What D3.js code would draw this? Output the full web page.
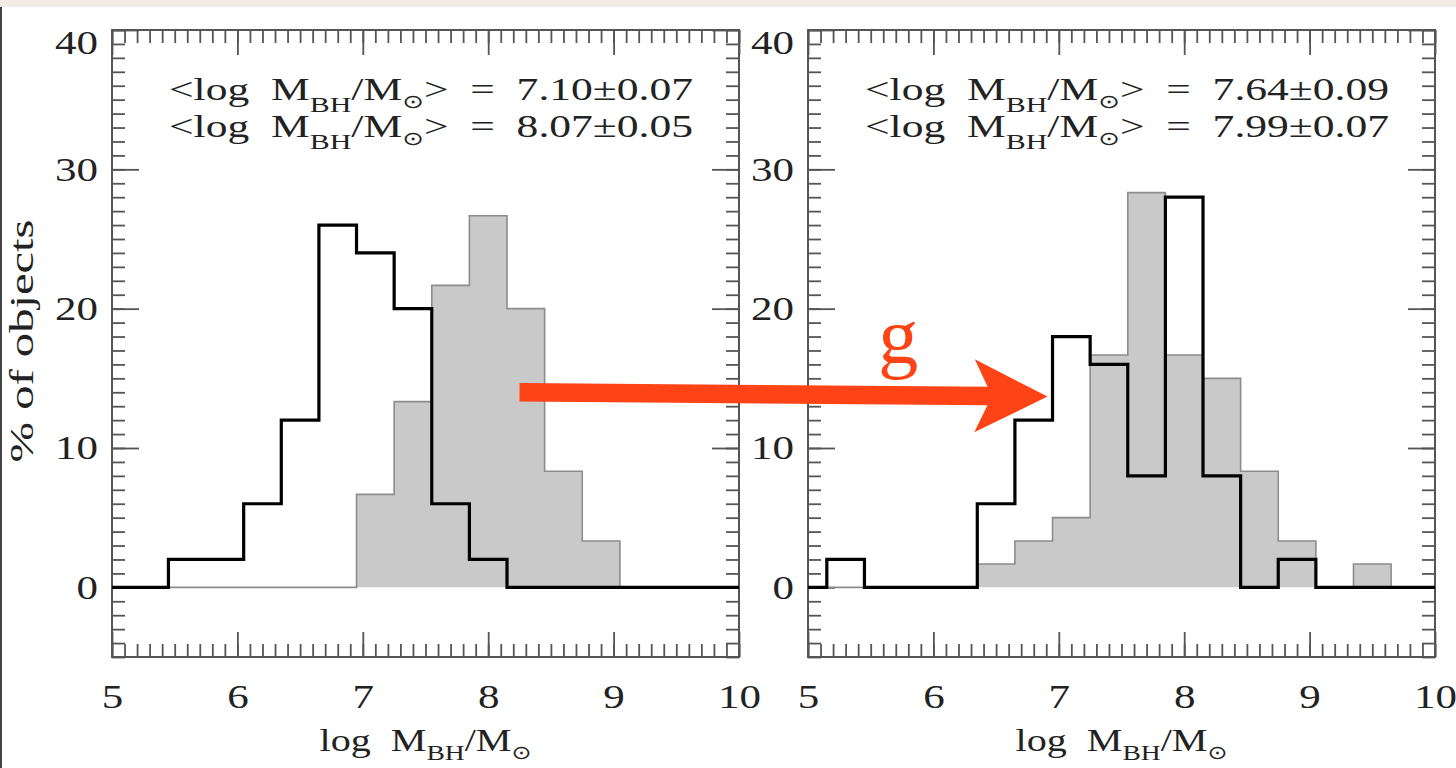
<!DOCTYPE html>
<html>
<head>
<meta charset="utf-8">
<script src="https://cdn.jsdelivr.net/npm/d3@7"></script>
<style>
body { margin: 0; background: #fff; }
svg { display: block; }
text { font-family: "Liberation Serif", "Times New Roman", serif; fill: #222; white-space: pre; }
.tick line { stroke: #555; stroke-width: 1.8; }
</style>
</head>
<body>
<svg id="chart" width="1456" height="768"></svg>
<script>
// histogram bins in log M_BH, all bins 0.3 wide
const binLefts = [5.15, 5.45, 5.75, 6.05, 6.35, 6.65, 6.95, 7.25, 7.55, 7.85, 8.15, 8.45, 8.75, 9.05, 9.35, 9.65];
const binWidth = 0.3;

// percent of objects per bin
const leftBlack  = [0, 2, 2, 6, 12, 26, 24, 20, 6, 2, 0, 0, 0, 0, 0, 0];
const leftGray   = [0, 0, 0, 0, 0, 0, 6.67, 13.33, 21.67, 26.67, 20, 8.33, 3.33, 0, 0, 0];
const rightBlack = [2, 0, 0, 0, 6, 12, 18, 16, 8, 28, 8, 0, 2, 0, 0, 0];
const rightGray  = [0, 0, 0, 0, 1.67, 3.33, 5, 16.67, 28.33, 16.67, 15, 8.33, 3.33, 0, 1.67, 0];

const leftMeans  = ["7.10\u00b10.07", "8.07\u00b10.05"];
const rightMeans = ["7.64\u00b10.09", "7.99\u00b10.07"];

const xTicks = [5, 6, 7, 8, 9, 10];
const yTicks = [0, 10, 20, 30, 40];
const xMinor = d3.range(50, 101).map(v => v / 10);
const yMinor = d3.range(-5, 41);

const svg = d3.select("#chart");

// beige strip on top + border line on the left
svg.append("rect").attr("x", 0).attr("y", 0).attr("width", 1456).attr("height", 7).attr("fill", "#f1ede4");
svg.append("line").attr("x1", 1).attr("x2", 1).attr("y1", 7).attr("y2", 768).attr("stroke", "#444").attr("stroke-width", 2);

const plotTop = 30, plotBottom = 657;
const y = d3.scaleLinear().domain([-5, 40]).range([plotBottom, plotTop]);

const panels = [
    {left: 112, right: 739, black: leftBlack, gray: leftGray, means: leftMeans},
    {left: 808, right: 1435, black: rightBlack, gray: rightGray, means: rightMeans}
];

function stepPoints(vals) {
    let pts = [[5, 0]];
    binLefts.forEach((b, i) => pts.push([b, vals[i]]));
    pts.push([binLefts[binLefts.length - 1] + binWidth, 0]);
    pts.push([10, 0]);
    return pts;
}

function massLabel(sel, prefix, sub) {
    sel.append("tspan").text(prefix + "  M");
    sel.append("tspan").attr("dy", sub).attr("font-size", 22).text("BH");
    sel.append("tspan").attr("dy", -sub).text("/M");
    sel.append("tspan").attr("dy", 8).attr("font-size", 19).attr("font-family", "DejaVu Sans").text("\u2299");
}

function cleanAxis(g) {
    g.attr("font-family", null).attr("font-size", null);
    g.select(".domain").remove();
}

panels.forEach((p, pi) => {
    const x = d3.scaleLinear().domain([5, 10]).range([p.left, p.right]);
    const g = svg.append("g");
    p.x = x;

    // axes, ticks pointing inwards on all four sides
    let ax = g.append("g").style("color", "#555");
    ax.append("g").attr("transform", "translate(0," + plotBottom + ")")
        .call(d3.axisBottom(x).tickValues(xMinor).tickSize(-13).tickFormat("")).call(cleanAxis);
    ax.append("g").attr("transform", "translate(0," + plotBottom + ")").attr("class", "xlab")
        .call(d3.axisBottom(x).tickValues(xTicks).tickSize(-25).tickPadding(27).tickFormat(d3.format("d"))).call(cleanAxis);
    ax.append("g").attr("transform", "translate(0," + plotTop + ")")
        .call(d3.axisTop(x).tickValues(xMinor).tickSize(-13).tickFormat("")).call(cleanAxis);
    ax.append("g").attr("transform", "translate(0," + plotTop + ")")
        .call(d3.axisTop(x).tickValues(xTicks).tickSize(-25).tickFormat("")).call(cleanAxis);
    ax.append("g").attr("transform", "translate(" + p.left + ",0)")
        .call(d3.axisLeft(y).tickValues(yMinor).tickSize(-13).tickFormat("")).call(cleanAxis);
    ax.append("g").attr("transform", "translate(" + p.left + ",0)").attr("class", "ylab")
        .call(d3.axisLeft(y).tickValues(yTicks).tickSize(-27).tickPadding(14)).call(cleanAxis);
    ax.append("g").attr("transform", "translate(" + p.right + ",0)")
        .call(d3.axisRight(y).tickValues(yMinor).tickSize(-13).tickFormat("")).call(cleanAxis);
    ax.append("g").attr("transform", "translate(" + p.right + ",0)")
        .call(d3.axisRight(y).tickValues(yTicks).tickSize(-27).tickFormat("")).call(cleanAxis);

    ax.selectAll(".xlab text, .ylab text")
        .attr("font-size", 34)
        .attr("textLength", d => String(d).length * 21.5)
        .attr("lengthAdjust", "spacingAndGlyphs");
    // top label sits below the frame edge
    ax.selectAll(".ylab text").filter(d => d === 40).attr("y", 13);

    g.append("rect").attr("x", p.left).attr("y", plotTop)
        .attr("width", p.right - p.left).attr("height", plotBottom - plotTop)
        .attr("fill", "none").attr("stroke", "#555").attr("stroke-width", 2);

    // gray filled histogram
    let area = d3.area().x(d => x(d[0])).y0(y(0)).y1(d => y(d[1])).curve(d3.curveStepAfter);
    let line = d3.line().x(d => x(d[0])).y(d => y(d[1])).curve(d3.curveStepAfter);
    g.append("path").datum(stepPoints(p.gray)).attr("d", area).attr("fill", "#c9c9c9");
    g.append("path").datum(stepPoints(p.gray)).attr("d", line)
        .attr("fill", "none").attr("stroke", "#8c8c8c").attr("stroke-width", 1.6);
    // black open histogram, drawn over the ticks
    g.append("path").datum(stepPoints(p.black)).attr("d", line)
        .attr("fill", "none").attr("stroke", "#000").attr("stroke-width", 3.2);

    // mean values
    p.means.forEach((m, i) => {
        let t = g.append("text").attr("x", p.right - 46).attr("y", 100 + i * 37)
            .attr("text-anchor", "end").attr("font-size", 32)
            .attr("textLength", 524).attr("lengthAdjust", "spacingAndGlyphs");
        massLabel(t, "<log", 12);
        t.append("tspan").attr("dy", -8).text(">  =  " + m);
    });

    // x title
    let xt = g.append("text").attr("x", (p.left + p.right) / 2).attr("y", 751)
        .attr("text-anchor", "middle").attr("font-size", 32)
        .attr("textLength", 212).attr("lengthAdjust", "spacingAndGlyphs");
    massLabel(xt, "log", 9);
});

// y title
svg.append("text").attr("transform", "translate(33,341) rotate(-90)")
    .attr("text-anchor", "middle").attr("font-size", 33)
    .attr("textLength", 243).attr("lengthAdjust", "spacingAndGlyphs")
    .text("% of objects");

// red arrow from the left panel to the right panel, labelled g
const arrowFrom = [8.25, 14.0];
const arrowTo = [6.91, 13.7];
const S = [panels[0].x(arrowFrom[0]), y(arrowFrom[1])];
const T = [panels[1].x(arrowTo[0]), y(arrowTo[1])];
const len = Math.hypot(T[0] - S[0], T[1] - S[1]);
const u = [(T[0] - S[0]) / len, (T[1] - S[1]) / len];
const n = [u[1], -u[0]];
const pt = (base, a, b) => [base[0] - u[0] * a + n[0] * b, base[1] - u[1] * a + n[1] * b];
const half = 9.2;
const arrow = [
    pt(S, 0, half), pt(T, 60, half), pt(T, 73, 36.5), T,
    pt(T, 73, -36.5), pt(T, 60, -half), pt(S, 0, -half)
];
svg.append("path").attr("d", "M" + arrow.map(d => d.join(",")).join("L") + "Z").attr("fill", "#fe4317");

svg.append("text").attr("x", panels[1].x(5.72)).attr("y", y(16.1))
    .attr("text-anchor", "middle").attr("font-size", 80)
    .style("fill", "#fe4317").text("g");
</script>
</body>
</html>
